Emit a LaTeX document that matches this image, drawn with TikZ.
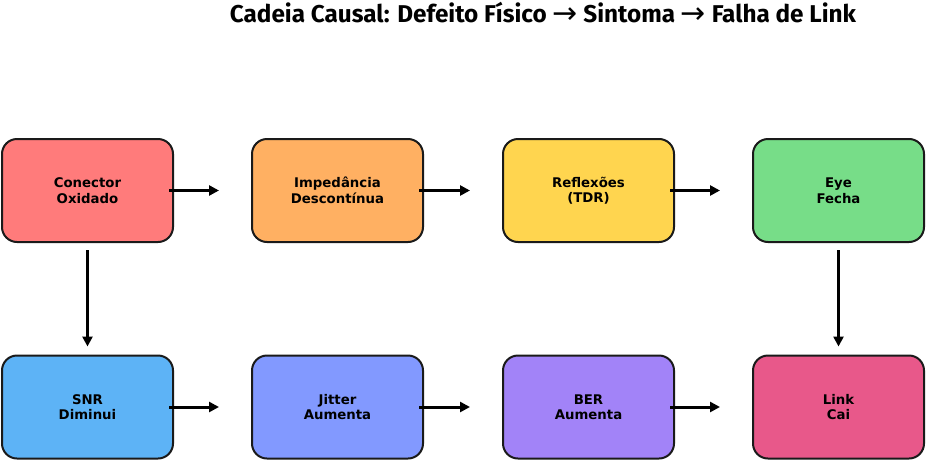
\documentclass[tikz,border=0pt]{standalone}
\usepackage{fontspec}
\setmainfont{DejaVu Sans}
\newfontfamily\titlefont{Fira Sans}
\newfontfamily\arrowfont{DejaVu Sans}
\usetikzlibrary{arrows.meta}
\definecolor{cRed}{HTML}{FF7B7B}
\definecolor{cOrange}{HTML}{FFB062}
\definecolor{cYellow}{HTML}{FFD54F}
\definecolor{cGreen}{HTML}{77DD88}
\definecolor{cBlue}{HTML}{5DB3F6}
\definecolor{cIndigo}{HTML}{8299FF}
\definecolor{cPurple}{HTML}{A283F8}
\definecolor{cPink}{HTML}{E8588A}
\definecolor{cLine}{HTML}{1A1A1A}
\newcommand{\titlearrow}{\raisebox{-0.5pt}{\arrowfont\mdseries\fontsize{30}{30}\selectfont →}}

\begin{document}
\begin{tikzpicture}
    [x=1pt,y=-1pt,
     box/.style={draw=cLine,line width=2pt,rounded corners=15pt,
       minimum width=171pt,minimum height=103pt,align=center,
       font=\bfseries\fontsize{13.3}{15.5}\selectfont},
     link/.style={-{Triangle[length=10pt,width=10pt]},line width=3pt}]
    \useasboundingbox (0,0) rectangle (926,461);
    \node [font=\titlefont\bfseries\fontsize{24.3}{28}\selectfont] (title) at (543,13)
      {Cadeia Causal: Defeito Físico \titlearrow{} Sintoma \titlearrow{} Falha de Link};
    % linha de cima: defeito
    \node [box,fill=cRed]    (conector)  at (87.5,190.5)  {Conector\\Oxidado};
    \node [box,fill=cOrange] (impedancia) at (337.5,190.5) {Impedância\\Descontínua};
    \node [box,fill=cYellow] (reflexoes) at (588.5,190.5) {Reflexões\\(TDR)};
    \node [box,fill=cGreen]  (eye)       at (838.5,190.5) {Eye\\Fecha};
    % linha de baixo: sintoma
    \node [box,fill=cBlue]   (snr)       at (87.5,407)  {SNR\\Diminui};
    \node [box,fill=cIndigo] (jitter)    at (337.5,407) {Jitter\\Aumenta};
    \node [box,fill=cPurple] (ber)       at (588.5,407) {BER\\Aumenta};
    \node [box,fill=cPink]   (link)      at (838.5,407) {Link\\Cai};
    \draw[link,shorten <=-5pt,shorten >=32pt] (conector) -- (impedancia);
    \draw[link,shorten <=-5pt,shorten >=32pt] (impedancia) -- (reflexoes);
    \draw[link,shorten <=-5pt,shorten >=32pt] (reflexoes) -- (eye);
    \draw[link,shorten <=-5pt,shorten >=32pt] (snr) -- (jitter);
    \draw[link,shorten <=-5pt,shorten >=32pt] (jitter) -- (ber);
    \draw[link,shorten <=-5pt,shorten >=32pt] (ber) -- (link);
    \draw[link,shorten <=7pt,shorten >=8pt] (conector) -- (snr);
    \draw[link,shorten <=7pt,shorten >=8pt] (eye) -- (link);
  \end{tikzpicture}
\end{document}
